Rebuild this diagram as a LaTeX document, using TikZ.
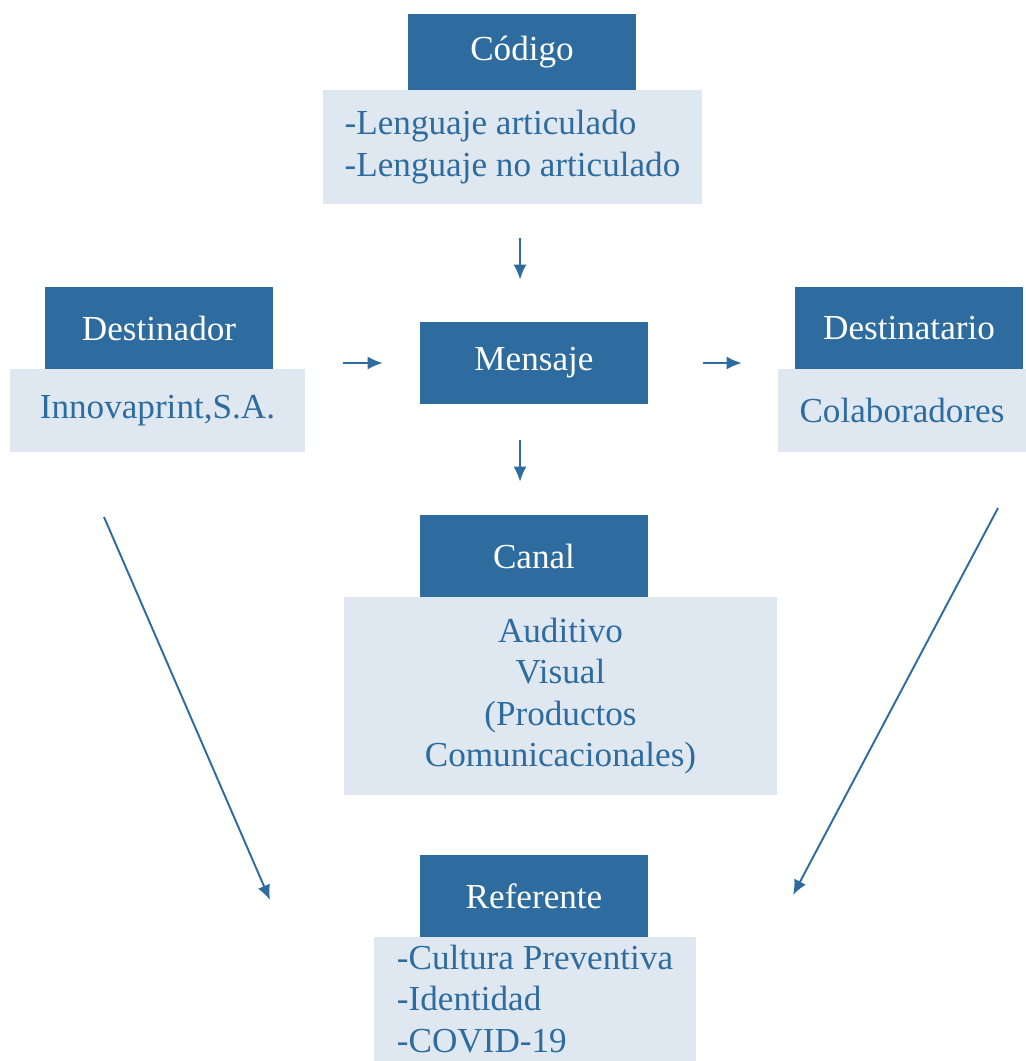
\documentclass[tikz,border=0pt]{standalone}
\usepackage{fontspec}
\setmainfont{Liberation Serif}
\usetikzlibrary{arrows.meta}
\definecolor{mazul}{RGB}{46,108,160}
\definecolor{mclaro}{RGB}{223,232,241}

\begin{document}
\begin{tikzpicture}[x=0.02cm,y=-0.02cm,
 font=\fontsize{20}{23.5}\selectfont,
 cab/.style={fill=mazul,text=white,minimum width=4.56cm,minimum height=1.64cm,inner sep=0pt},
 caja/.style={fill=mclaro,text=mazul,inner sep=0pt,align=center},
 flecha/.style={draw=mazul,line width=1.1pt,-{Latex[length=3mm,width=2.6mm]}}]
 \useasboundingbox (0,0) rectangle (1026,1061);
 % codigo
 \node[cab,minimum height=1.52cm] (cod) at (522,52) {Código};
 \node[caja,align=left,minimum width=7.58cm,minimum height=2.28cm] (lcod) at (512.5,147) {-Lenguaje articulado\\-Lenguaje no articulado};
 % fila central
 \node[cab] (dest) at (159,328) {Destinador};
 \node[caja,minimum width=5.9cm,minimum height=1.66cm] (ldest) at (157.5,410.5) {Innovaprint,S.A.};
 \node[cab] (men) at (534,363) {Mensaje};
 \node[cab] (dtt) at (909,328) {Destinatario};
 \node[caja,minimum width=4.96cm,minimum height=1.66cm] (ldtt) at (902,410.5) {Colaboradores};
 % canal
 \node[cab] (can) at (534,556) {Canal};
 \node[caja,minimum width=8.66cm,minimum height=3.96cm] (lcan) at (560.5,696) {Auditivo\\Visual\\(Productos\\Comunicacionales)};
 % referente
 \node[cab] (ref) at (534,896) {Referente};
 \node[caja,align=left,minimum width=6.44cm,minimum height=2.48cm] (lref) at (535,999) {-Cultura Preventiva\\-Identidad\\-COVID-19};
 \coordinate (pL1) at (104,517);
 \coordinate (pL2) at (270,900);
 \coordinate (pR1) at (998,508);
 \coordinate (pR2) at (793,895);
 % flechas
 \draw[flecha,shorten <=0.68cm,shorten >=0.84cm] ([xshift=-0.28cm]lcod.south -| men.north) -- ([xshift=-0.28cm]men.north);
 \draw[flecha,shorten <=0.72cm,shorten >=0.66cm] ([xshift=-0.28cm]men.south) -- ([xshift=-0.28cm]can.north);
 \draw[flecha,shorten <=0.76cm,shorten >=0.74cm] (ldest.east |- men.west) -- (men.west);
 \draw[flecha,shorten <=1.1cm,shorten >=0.72cm] (men.east) -- (ldtt.west |- men.east);
 \draw[flecha] (pL1) -- (pL2);
 \draw[flecha] (pR1) -- (pR2);
\end{tikzpicture}
\end{document}
